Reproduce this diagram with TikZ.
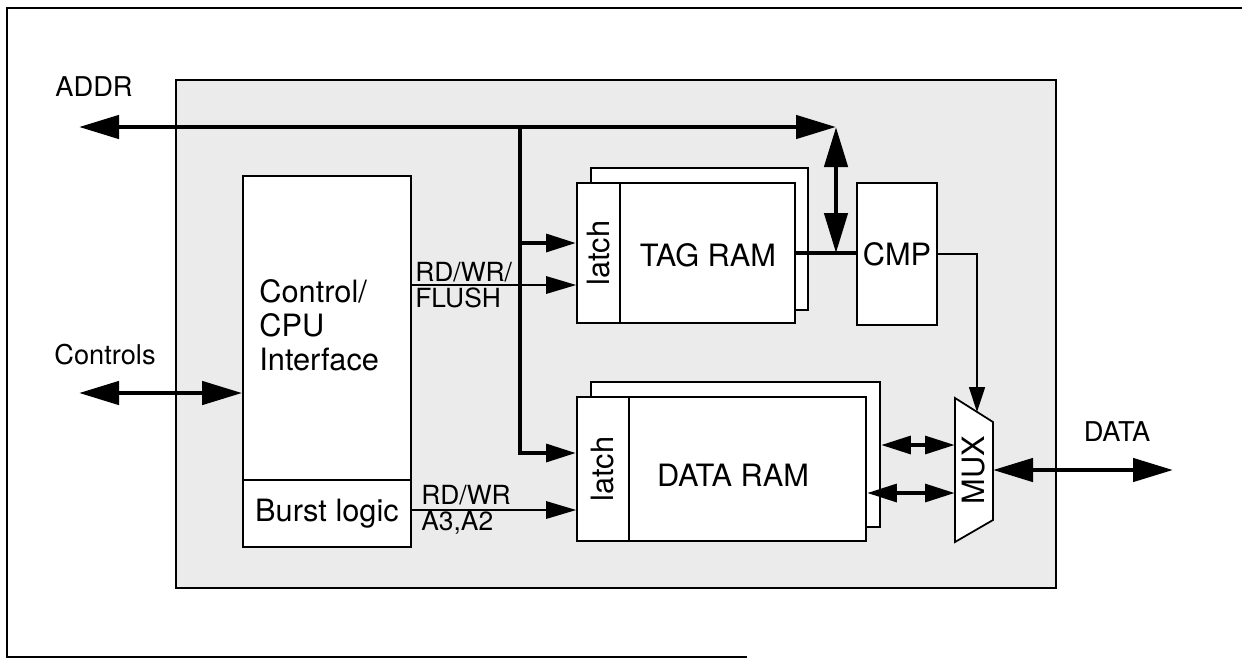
\documentclass[tikz,border=0pt]{standalone}
\usepackage{fontspec}
\setmainfont{TeX Gyre Heros}
\usetikzlibrary{positioning,arrows.meta,fit,calc}

\begin{document}
\begin{tikzpicture}[x=0.2mm, y=-0.2mm,
    blk/.style={draw, line width=1pt, fill=white, inner sep=0pt},
    bus/.style={line width=2.6pt},
    sig/.style={line width=0.9pt},
    bigtip/.tip={Triangle[length=8mm, width=4.6mm]},
    smalltip/.tip={Triangle[length=6mm, width=3.5mm]},
    thintip/.tip={Triangle[length=5mm, width=3.2mm]},
    lbl/.style={font=\fontsize{15.5}{17}\selectfont, inner sep=0pt},
    txt/.style={font=\fontsize{17.5}{19}\selectfont, inner sep=0pt},
    sigtxt/.style={font=\fontsize{15}{15}\selectfont, inner sep=0pt, align=left}]

    \useasboundingbox (0,0) rectangle (1242,660);

    % Page frame (open on the right, as in the scan)
    \draw[line width=0.9pt] (1242,8) -- (7,8) -- (7,657) -- (747,657);

    % Chip outline with its light stipple
    \node[blk, fill=black!8, fit={(176,80) (1056,588)}] (chip) {};

    % RAM blocks, second bank drawn behind
    \node[blk, fit={(591,168) (808,310)}] (tagback) {};
    \node[blk, fit={(577,183) (620,323)}] (taglatch) {};
    \node[blk, fit={(620,183) (795,323)}] (tagram) {};

    \node[blk, fit={(591,382) (880,527)}] (databack) {};
    \node[blk, fit={(577,397) (629,541)}] (datalatch) {};
    \node[blk, fit={(629,397) (866,541)}] (dataram) {};

    \node[blk, fit={(857,183) (937,325)}] (cmp) {};

    % Control block and burst logic
    \node[blk, fit={(243,176) (411,480)}] (ctrl) {};
    \node[blk, fit={(243,480) (411,547)}] (burst) {};

    % MUX trapezium
    \coordinate (muxtl) at (955,398);
    \coordinate (muxtr) at (993,422);
    \coordinate (muxbr) at (993,520);
    \coordinate (muxbl) at (955,542);
    \draw[line width=1pt, fill=white] (muxtl) -- (muxtr) -- (muxbr) -- (muxbl) -- cycle;
    \coordinate (muxsel) at (977,412);
    \coordinate (muxin1) at (955,445);
    \coordinate (muxin2) at (955,493);
    \coordinate (muxout) at (993,470);

    % Free ends of the outside buses
    \coordinate (addrL) at (79,127);
    \coordinate (addrR) at (836,127);
    \coordinate (bj) at (520,127);
    \coordinate (ctrlL) at (79,393);
    \coordinate (dataR) at (1173,470);

    % Address bus
    \draw[bus, bigtip-bigtip] (addrL) -- (addrR);
    \draw[bus, bigtip-bigtip] (addrR) -- (addrR |- tagram.east);
    \draw[bus, -smalltip] (bj) |- (datalatch.west |- 0,453);
    \draw[bus, -smalltip] (bj |- 0,243) -- (taglatch.west |- 0,243);

    % Tag compare path
    \draw[bus] (tagram.east) -- (tagram.east -| cmp.west);
    \draw[sig, -thintip] (cmp.east) -| (muxsel);

    % Control signals
    \draw[bus, bigtip-bigtip] (ctrlL) -- (ctrl.west |- ctrlL);
    \draw[sig, -smalltip] (ctrl.east |- 0,285) -- (taglatch.west |- 0,285);
    \draw[sig, -smalltip] (burst.east |- 0,510) -- (datalatch.west |- 0,510);

    % Data path
    \draw[bus, smalltip-smalltip] (databack.east |- muxin1) -- (muxin1);
    \draw[bus, smalltip-smalltip] (dataram.east |- muxin2) -- (muxin2);
    \draw[bus, bigtip-bigtip] (muxout) -- (dataR);

    % Labels
    \node[lbl] (addrtxt) at (94,87) {ADDR};
    \node[lbl] (ctrltxt) at (105,355) {Controls};
    \node[lbl] (datatxt) at (1117,432) {DATA};

    \node[txt, align=left, anchor=west, font=\fontsize{17.5}{19.5}\selectfont] (ifctxt) at (259,325) {Control/\\CPU\\Interface};
    \node[txt] (bursttxt) at (burst) {Burst logic};
    \node[sigtxt, anchor=west] (rwftxt) at (415,285) {RD/WR/\\FLUSH};
    \node[sigtxt, anchor=west] (rwatxt) at (421,510) {RD/WR\\A3,A2};

    \node[txt, rotate=90] (tlatchtxt) at (taglatch) {latch};
    \node[txt, rotate=90] (dlatchtxt) at (datalatch) {latch};
    \node[txt] (tagtxt) at (708,255) {TAG RAM};
    \node[txt] (datatxt2) at (733,475) {DATA RAM};
    \node[txt] (cmptxt) at (cmp) {CMP};
    \node[txt, rotate=90] (muxtxt) at (974,470) {MUX};
\end{tikzpicture}
\end{document}
